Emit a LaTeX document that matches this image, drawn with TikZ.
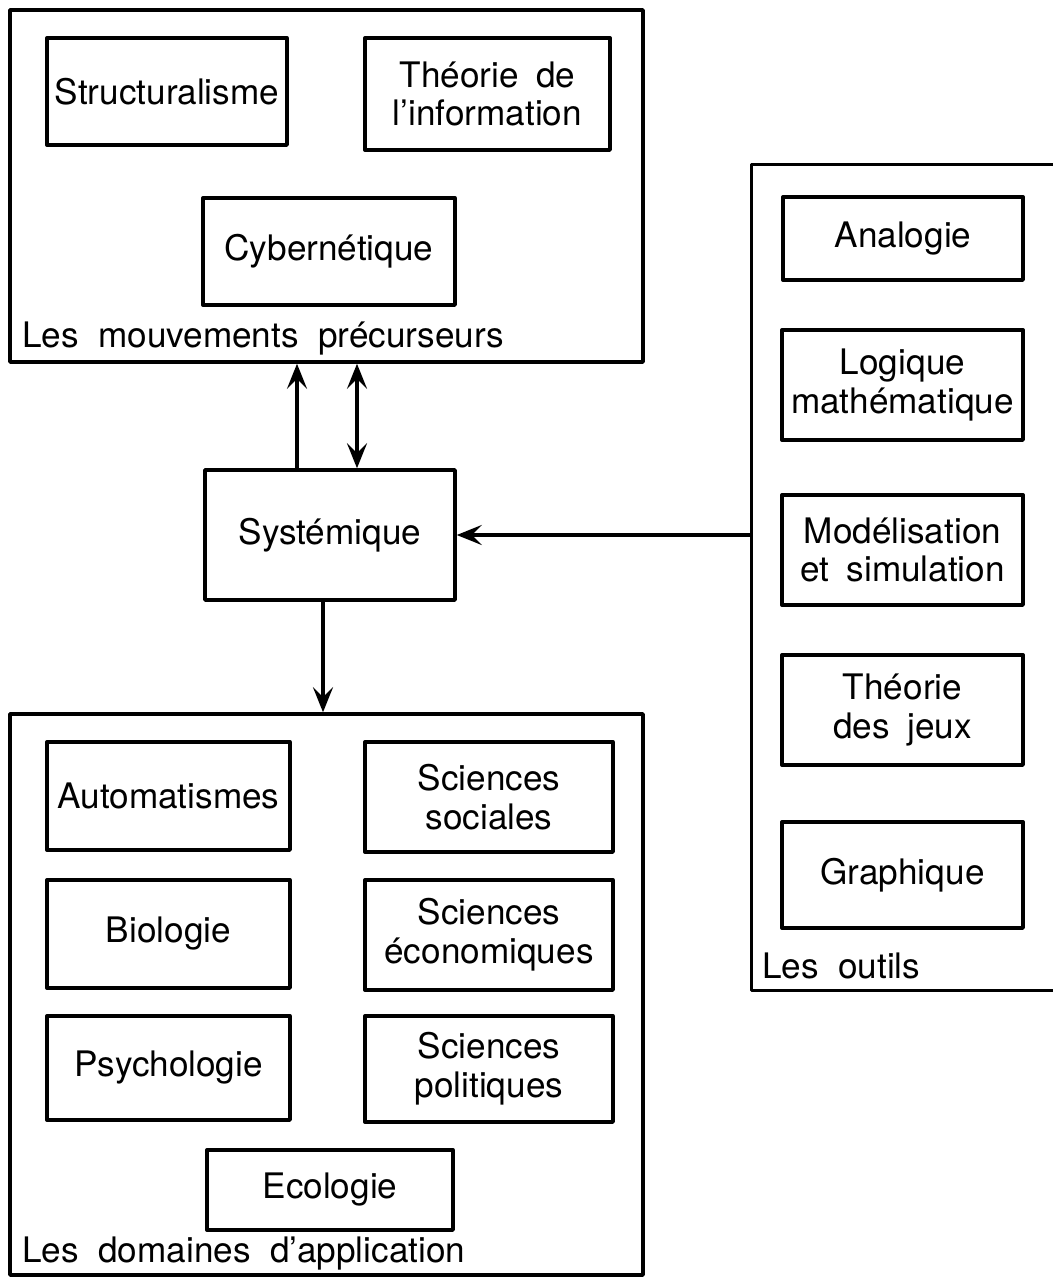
\documentclass[tikz,border=0pt]{standalone}
\usepackage{fontspec}
\setmainfont{TeX Gyre Heros}
\usetikzlibrary{arrows.meta}
\newcommand\boxfont{\fontsize{20}{22}\selectfont\spaceskip=0.5em plus 0.1em\relax}
\newcommand\lblfont{\fontsize{20}{22}\selectfont\spaceskip=0.55em plus 0.1em\relax}

\begin{document}
\begin{tikzpicture}[line join=round,
    >={Stealth[length=5mm,width=4mm,inset=2mm]}]
  \tikzset{bx/.style={draw, line width=1.9pt, align=center, inner sep=0pt,
      font=\boxfont},
    cadre/.style={draw, line width=2pt, inner sep=0pt},
    lbl/.style={anchor=base west, inner sep=0pt, font=\lblfont},
    fl/.style={line width=2pt}}
  \useasboundingbox (0,0) rectangle (21.06,-25.56);
  \node[cadre, minimum width=12.66cm, minimum height=7.04cm] (mouv) at (6.53,-3.72) {};
  \node[bx, minimum width=4.8cm, minimum height=2.14cm] (struct) at (3.34,-1.83) {Structuralisme};
  \node[bx, minimum width=4.9cm, minimum height=2.24cm] (info) at (9.75,-1.88) {Théorie de\\l'information};
  \node[bx, minimum width=5.04cm, minimum height=2.14cm] (cyber) at (6.58,-5.03) {Cybernétique};
  \node[lbl] (lmouv) at (0.44,-6.95) {Les mouvements précurseurs};
  \node[bx, line width=2pt, minimum width=5cm, minimum height=2.6cm] (syst) at (6.6,-10.7) {Systémique};
  \node[cadre, minimum width=12.66cm, minimum height=11.22cm] (dom) at (6.53,-19.89) {};
  \node[bx, minimum width=4.86cm, minimum height=2.16cm] (autom) at (3.37,-15.92) {Automatismes};
  \node[bx, minimum width=4.96cm, minimum height=2.2cm] (soc) at (9.78,-15.94) {Sciences\\sociales};
  \node[bx, minimum width=4.86cm, minimum height=2.16cm] (bio) at (3.37,-18.68) {Biologie};
  \node[bx, minimum width=4.96cm, minimum height=2.2cm] (eco) at (9.78,-18.70) {Sciences\\économiques};
  \node[bx, minimum width=4.86cm, minimum height=2.08cm] (psy) at (3.37,-21.36) {Psychologie};
  \node[bx, minimum width=4.96cm, minimum height=2.12cm] (pol) at (9.78,-21.38) {Sciences\\politiques};
  \node[bx, minimum width=4.92cm, minimum height=1.6cm] (ecol) at (6.6,-23.8) {Ecologie};
  \node[lbl] (ldom) at (0.44,-25.24) {Les domaines d'application};
  \node[minimum width=6.02cm, minimum height=16.5cm, inner sep=0pt] (outils) at (18.05,-11.55) {};
  \draw[line width=2pt] (outils.north east) -- (outils.north west)
    -- (outils.south west) -- (outils.south east);
  \node[bx, minimum width=4.8cm, minimum height=1.66cm] (analog) at (18.06,-4.77) {Analogie};
  \node[bx, minimum width=4.82cm, minimum height=2.2cm] (logiq) at (18.05,-7.7) {Logique\\mathématique};
  \node[bx, minimum width=4.82cm, minimum height=2.2cm] (model) at (18.05,-11.0) {Modélisation\\et simulation};
  \node[bx, minimum width=4.82cm, minimum height=2.2cm] (jeux) at (18.05,-14.2) {Théorie\\des jeux};
  \node[bx, minimum width=4.82cm, minimum height=2.12cm] (graph) at (18.05,-17.5) {Graphique};
  \node[lbl] (loutils) at (15.24,-19.56) {Les outils};
  \draw[->, fl] ([xshift=-6.6mm]syst.north) -- ([xshift=-6.6mm]syst.north |- mouv.south);
  \draw[<->, fl] ([xshift=5.4mm]syst.north) -- ([xshift=5.4mm]syst.north |- mouv.south);
  \draw[->, fl] ([xshift=-1.4mm]syst.south) -- ([xshift=-1.4mm]syst.south |- dom.north);
  \draw[->, fl] (outils.west |- syst.east) -- (syst.east);
\end{tikzpicture}
\end{document}
